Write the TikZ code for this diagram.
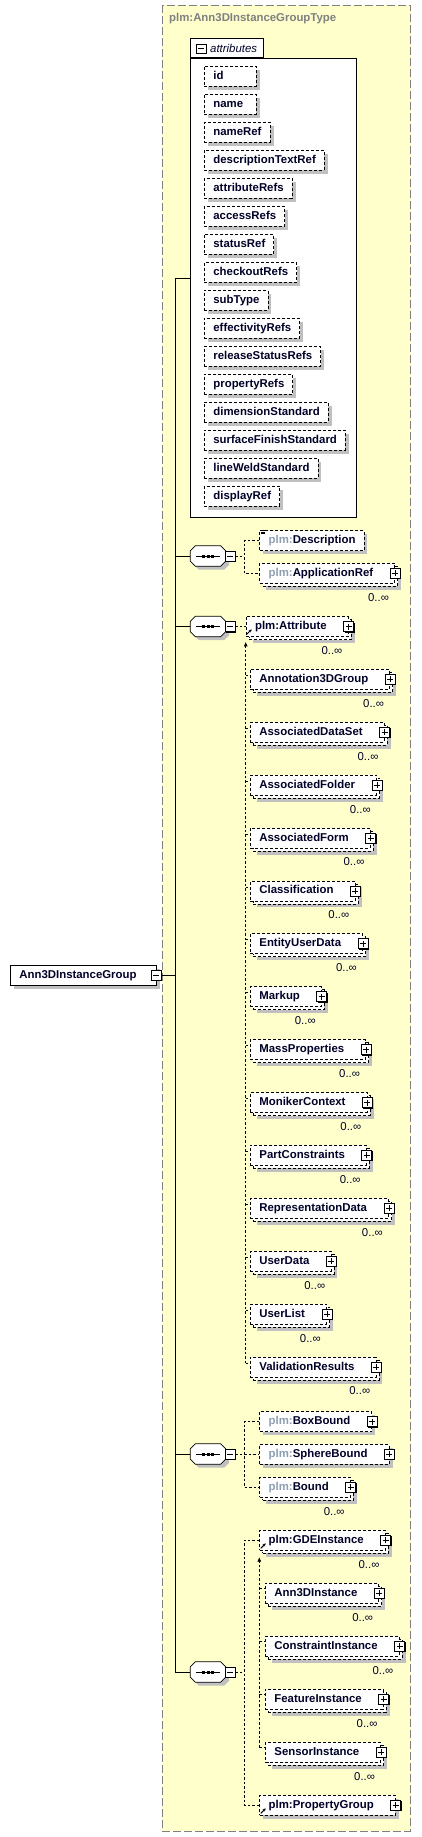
\documentclass[tikz,border=0pt]{standalone}
\usepackage{fontspec}
\usetikzlibrary{arrows.meta, shadows, calc}
\newfontfamily\diagFont{Liberation Sans}
\definecolor{schemaYellow}{RGB}{255,255,204}
\definecolor{frameGray}{RGB}{128,128,128}
\definecolor{shadowGray}{RGB}{192,192,192}
\definecolor{labelNavy}{RGB}{0,0,40}
\definecolor{prefixGray}{RGB}{140,158,178}
\newcommand{\pfx}{\textcolor{prefixGray}{plm:}}
\tikzset{
    % Base style for all element boxes
    elemCore/.style={
        rectangle,
        draw=black,
        fill=white,
        line width=0.8pt,
        anchor=west,
        minimum height=20pt,
        inner xsep=0pt,
        inner ysep=0pt,
        text height=8.5pt,
        text depth=2.5pt,
        font=\diagFont\bfseries\fontsize{11.4}{13.7}\selectfont,
        text=labelNavy,
        execute at begin node={\hspace*{9pt}},
        execute at end node={\hspace*{8.5pt}}
    },
    dotLine/.style={dash pattern=on 3pt off 2pt},
    boxShadow/.style={drop shadow={shadow xshift=#1, shadow yshift=-#1, fill=shadowGray, opacity=1, draw=none}},
    % Specific styles
    attrItem/.style={elemCore, dotLine, boxShadow=3.5pt},
    singleElem/.style={elemCore, dotLine, boxShadow=3.5pt},
    iconElem/.style={singleElem, execute at end node={\hspace*{13pt}}},
    repElem/.style={elemCore, dotLine, boxShadow=6.5pt,
        copy shadow={shadow xshift=3pt, shadow yshift=-3pt, draw=black, fill=white, line width=0.8pt, dotLine},
        execute at end node={\hspace*{13pt}}},
    rootElem/.style={elemCore, boxShadow=3.5pt, execute at end node={\hspace*{11pt}}},
    % Expand / collapse icons
    iconBox/.style={rectangle, draw=black, solid, fill=white, line width=0.7pt,
        minimum size=10pt, inner sep=0pt,
        drop shadow={shadow xshift=1pt, shadow yshift=-1pt, fill=black, opacity=1, draw=none}},
    plusIcon/.style={iconBox, path picture={
        \draw[line width=0.8pt] ([xshift=2pt]path picture bounding box.west) -- ([xshift=-2pt]path picture bounding box.east)
            ([yshift=-2pt]path picture bounding box.north) -- ([yshift=2pt]path picture bounding box.south);}},
    minusIcon/.style={iconBox, path picture={
        \draw[line width=0.8pt] ([xshift=2pt]path picture bounding box.west) -- ([xshift=-2pt]path picture bounding box.east);}},
    % Sequence compositor
    seqFrame/.style={rectangle, draw=none, minimum width=35pt, minimum height=20pt, inner sep=0pt, anchor=west},
    seqLine/.style={draw=black, line width=0.8pt},
    % Frames and labels
    typeFrame/.style={draw=frameGray, fill=schemaYellow, line width=1pt, dash pattern=on 8pt off 3pt},
    attrFrame/.style={draw=black, fill=white, line width=0.8pt, inner sep=0pt},
    typeTitle/.style={anchor=west, inner sep=0pt, text=frameGray,
        font=\diagFont\bfseries\fontsize{11.4}{13.7}\selectfont},
    tabCaption/.style={anchor=west, inner sep=0pt, text=labelNavy,
        font=\diagFont\itshape\fontsize{11.4}{13.7}\selectfont},
    occurs/.style={anchor=east, inner sep=0pt, text=labelNavy,
        font=\diagFont\fontsize{11.4}{13.7}\selectfont},
    % Connector styles
    wire/.style={draw=black, line width=0.8pt},
    link/.style={draw=black, line width=0.7pt, dash pattern=on 2.5pt off 2pt},
    subArrow/.style={link, -{Latex[length=4.5pt, width=4pt]}},
    headArrow/.style={draw=black, line width=0.9pt, -{Stealth[length=3pt, width=3pt]}},
    docMark/.style={draw=black, line width=0.6pt}
}
% element that may repeat: name, position, text
\newcommand{\manyElem}[3]{%
    \node (#1) [repElem] at (#2) {#3};
    \node (#1-plus) [plusIcon] at (#1.east) {};
    \node (#1-occ) [occurs] at ([shift={(-6pt,-24pt)}]#1.east) {0..∞};
}
% element that occurs once, with expand icon
\newcommand{\oneElem}[3]{%
    \node (#1) [iconElem] at (#2) {#3};
    \node (#1-plus) [plusIcon] at (#1.east) {};
}
% octagon outline round a sequence node
\newcommand{\octPath}[1]{([xshift=5pt]#1.north west) -- ([xshift=-5pt]#1.north east)
    -- ([yshift=-5pt]#1.north east) -- ([yshift=5pt]#1.south east)
    -- ([xshift=-5pt]#1.south east) -- ([xshift=5pt]#1.south west)
    -- ([yshift=5pt]#1.south west) -- ([yshift=-5pt]#1.north west) -- cycle}
% sequence compositor: name, position
\newcommand{\seqBox}[2]{%
    \node (#1) [seqFrame] at (#2) {};
    \fill [shadowGray, transform canvas={shift={(3.5pt,-3.5pt)}}] \octPath{#1};
    \filldraw [seqLine, fill=white] \octPath{#1};
    \draw [seqLine, line width=1pt] ([xshift=6pt]#1.west) -- ([xshift=-6pt]#1.east);
    \fill ([shift={(-5.7pt,-1.5pt)}]#1.center) rectangle ++(3pt,3pt);
    \fill ([shift={(-1.5pt,-1.5pt)}]#1.center) rectangle ++(3pt,3pt);
    \fill ([shift={(2.7pt,-1.5pt)}]#1.center) rectangle ++(3pt,3pt);
    \node (#1-minus) [minusIcon] at ([xshift=4.3pt]#1.east) {};
}

\begin{document}
\begin{tikzpicture}[x=1pt, y=-1pt]

    \useasboundingbox (0,0) rectangle (421,1837);

    % --- TYPE FRAME ---
    \draw [typeFrame] (162,5.3) rectangle (410.7,1831);
    \node (typeName) [typeTitle] at (169,19) {plm:Ann3DInstanceGroupType};

    % --- ATTRIBUTES ---
    \node (attrs) [attrFrame, anchor=north west, minimum width=165.4pt, minimum height=459pt] at (190.3,57.7) {};
    \node (attrTab) [attrFrame, anchor=south west, minimum width=73pt, minimum height=19.4pt] at (attrs.north west) {};
    \node (attrTab-minus) [minusIcon, minimum height=9pt] at (201,48.8) {};
    \node (attrCaption) [tabCaption] at (210,48.7) {attributes};

    \node (attId) [attrItem] at (204,76.3) {\makebox[34.5pt][l]{id}};
    \node (attName) [attrItem] at (204,104.3) {\makebox[34.5pt][l]{name}};
    \node (attNameRef) [attrItem] at (204,132.3) {nameRef};
    \node (attDescr) [attrItem] at (204,160.3) {descriptionTextRef};
    \node (attAttrRefs) [attrItem] at (204,188.3) {attributeRefs};
    \node (attAccess) [attrItem] at (204,216.3) {accessRefs};
    \node (attStatus) [attrItem] at (204,244.3) {statusRef};
    \node (attCheckout) [attrItem] at (204,272.3) {checkoutRefs};
    \node (attSubType) [attrItem] at (204,300.3) {subType};
    \node (attEffect) [attrItem] at (204,328.3) {effectivityRefs};
    \node (attRelease) [attrItem] at (204,356.3) {releaseStatusRefs};
    \node (attProperty) [attrItem] at (204,384.3) {propertyRefs};
    \node (attDimension) [attrItem] at (204,412.3) {dimensionStandard};
    \node (attSurface) [attrItem] at (204,440.3) {surfaceFinishStandard};
    \node (attLineWeld) [attrItem] at (204,468.3) {lineWeldStandard};
    \node (attDisplay) [attrItem] at (204,496.3) {displayRef};

    % --- ROOT ELEMENT ---
    \node (root) [rootElem] at (10,975) {Ann3DInstanceGroup};
    \node (root-minus) [minusIcon] at (root.east) {};

    % --- SEQUENCES ---
    \coordinate (spineTop) at (175.3,278.3);
    \coordinate (forkX) at (244.3,0);
    \seqBox{seqA}{190.3,556}
    \seqBox{seqB}{190.3,626.5}
    \seqBox{seqC}{190.3,1454}
    \seqBox{seqD}{190.3,1672}

    % 1. Description group
    \node (descr) [singleElem] at (259.3,540.5) {\pfx Description};
    \draw [docMark] ([xshift=1.5pt]descr.north west) -- ++(4.5pt,0pt)
        ([xshift=1.5pt,yshift=-1.7pt]descr.north west) -- ++(4.5pt,0pt)
        ([xshift=1.5pt,yshift=-3.4pt]descr.north west) -- ++(4.5pt,0pt);
    \manyElem{appRef}{259.3,573.3}{\pfx ApplicationRef}

    % 2. Attribute substitution group
    \manyElem{attrHead}{245.7,626.5}{plm:Attribute}
    \manyElem{anno3DGroup}{250,679.3}{Annotation3DGroup}
    \manyElem{assocDataSet}{250,732.2}{AssociatedDataSet}
    \manyElem{assocFolder}{250,785.1}{AssociatedFolder}
    \manyElem{assocForm}{250,838}{AssociatedForm}
    \manyElem{classif}{250,890.9}{Classification}
    \manyElem{entityUserData}{250,943.8}{EntityUserData}
    \manyElem{markup}{250,996.7}{Markup}
    \manyElem{massProps}{250,1049.6}{MassProperties}
    \manyElem{monikerCtx}{250,1102.5}{MonikerContext}
    \manyElem{partConstr}{250,1155.4}{PartConstraints}
    \manyElem{reprData}{250,1208.3}{RepresentationData}
    \manyElem{userData}{250,1261.2}{UserData}
    \manyElem{userList}{250,1314.1}{UserList}
    \manyElem{validResults}{250,1367}{ValidationResults}

    % 3. Bound choice
    \oneElem{boxBound}{259.3,1421.7}{\pfx BoxBound}
    \oneElem{sphereBound}{259.3,1454.3}{\pfx SphereBound}
    \manyElem{bound}{259.3,1487.3}{\pfx Bound}

    % 4. Instances
    \manyElem{gde}{259.3,1540.3}{plm:GDEInstance}
    \manyElem{ann3DInst}{265,1593.3}{Ann3DInstance}
    \manyElem{constrInst}{265,1646.3}{ConstraintInstance}
    \manyElem{featureInst}{265,1699.3}{FeatureInstance}
    \manyElem{sensorInst}{265,1752.3}{SensorInstance}
    \oneElem{propGroup}{259.3,1805.3}{plm:PropertyGroup}

    % --- Wires ---
    \draw [wire] (root-minus.east) -- (root-minus.east -| spineTop);
    \draw [wire] (spineTop) -- (spineTop |- seqD.west);
    \draw [wire] (spineTop) -- (spineTop -| attrs.west);
    \draw [wire] (spineTop |- seqA.west) -- (seqA.west);
    \draw [wire] (spineTop |- seqB.west) -- (seqB.west);
    \draw [wire] (spineTop |- seqC.west) -- (seqC.west);
    \draw [wire] (spineTop |- seqD.west) -- (seqD.west);

    % --- Links ---
    \draw [link] (seqA-minus.east) -- (forkX |- seqA.east);
    \draw [link] (descr.west) -- (forkX |- descr.west) -- (forkX |- appRef.west) -- (appRef.west);
    \draw [link] (seqB-minus.east) -- (attrHead.west);
    \draw [link] (seqC-minus.east) -- (forkX |- seqC.east);
    \draw [link] (boxBound.west) -- (forkX |- boxBound.west) -- (forkX |- bound.west) -- (bound.west);
    \draw [link] (forkX |- sphereBound.west) -- (sphereBound.west);
    \draw [link] (seqD-minus.east) -- (forkX |- seqD.east);
    \draw [link] (gde.west) -- (forkX |- gde.west) -- (forkX |- propGroup.west) -- (propGroup.west);

    % --- Substitution members ---
    \draw [subArrow] ($(validResults.west)+(-4.3pt,4pt)$) -- ([yshift=-5pt]attrHead.south west);
    \foreach \member in {anno3DGroup, assocDataSet, assocFolder, assocForm, classif, entityUserData,
        markup, massProps, monikerCtx, partConstr, reprData, userData, userList, validResults}
        \draw [link] ($(\member.west)+(-4.3pt,4pt)$) -- ([yshift=4pt]\member.west);
    \draw [subArrow] ($(sensorInst.west)+(-5.7pt,5pt)$) -- ([yshift=-6.4pt]gde.south west);
    \foreach \member in {ann3DInst, constrInst, featureInst, sensorInst}
        \draw [link] ($(\member.west)+(-5.7pt,5pt)$) -- ([yshift=5pt]\member.west);

    \draw [headArrow] ($(attrHead.south west)+(1pt,2.5pt)$) -- ++(5pt,5pt);
    \draw [headArrow] ($(gde.south west)+(1.4pt,2.3pt)$) -- ++(5pt,5pt);
    \draw [headArrow] ($(propGroup.south west)+(1.4pt,2.3pt)$) -- ++(5pt,5pt);

\end{tikzpicture}
\end{document}
